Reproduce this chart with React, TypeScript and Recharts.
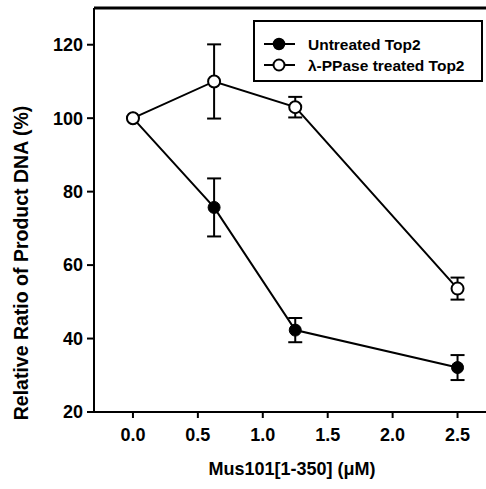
import { LineChart, Line, XAxis, YAxis, ErrorBar, ReferenceLine, Legend } from 'recharts'

const conc = [0, 0.625, 1.25, 2.5]
const untreated = [100, 75.7, 42.3, 32.1]
const untreatedErr = [0, 7.9, 3.3, 3.4]
const ppase = [100, 110, 103, 53.6]
const ppaseErr = [0, 10.1, 2.8, 3.0]

const xTicks = [0, 0.5, 1, 1.5, 2, 2.5]
const yTicks = [20, 40, 60, 80, 100, 120]

const font = '"Liberation Sans", Arial, sans-serif'

// one row per concentration, Recharts wants it this way
const chartData = conc.map((c, i) => ({
  conc: c,
  untreated: untreated[i],
  untreatedErr: untreatedErr[i],
  ppase: ppase[i],
  ppaseErr: ppaseErr[i],
}))

const LegendBox = () => (
  <div style={{ border: '2px solid #000', background: '#fff', width: 230, height: 62, boxSizing: 'border-box' }}>
    <svg width={226} height={58} style={{ display: 'block' }}>
      <line x1={9} x2={40} y1={22} y2={22} stroke="#000" strokeWidth={2} />
      <circle cx={24} cy={22} r={5.5} fill="#000" stroke="#000" strokeWidth={1.5} />
      <text x={53} y={27.5} fontFamily={font} fontWeight={700} fontSize={15.5}>Untreated Top2</text>
      <line x1={9} x2={40} y1={43} y2={43} stroke="#000" strokeWidth={2} />
      <circle cx={24} cy={43} r={5.5} fill="#fff" stroke="#000" strokeWidth={2} />
      <text x={53} y={48.5} fontFamily={font} fontWeight={700} fontSize={15.5}>λ-PPase treated Top2</text>
    </svg>
  </div>
)

const YTitle = () => (
  <text x={28} y={263} transform="rotate(-90, 28, 263)" textAnchor="middle" fontFamily={font} fontWeight={700} fontSize={19.5} fill="#000">
    Relative Ratio of Product DNA (%)
  </text>
)

export default function App() {
  return (
    <div style={{ position: 'fixed', left: 0, top: 0, width: 486, height: 489, overflow: 'hidden', background: '#fff' }}>
      <LineChart width={490} height={489} data={chartData} margin={{ top: 8, right: 0, left: 0, bottom: 0 }}>
        <XAxis
          dataKey="conc"
          type="number"
          domain={[-0.3, 2.75]}
          allowDataOverflow
          ticks={xTicks}
          tickFormatter={(v: number) => v.toFixed(1)}
          height={77}
          stroke="#000"
          strokeWidth={2}
          tickSize={6}
          tick={{ fill: '#000', fontFamily: font, fontWeight: 700, fontSize: 18, dy: 8 }}
          label={{ value: 'Mus101[1-350] (μM)', position: 'insideBottom', offset: 14, fill: '#000', fontFamily: font, fontWeight: 700, fontSize: 18 }}
        />
        <YAxis
          type="number"
          domain={[20, 130]}
          ticks={yTicks}
          width={94}
          stroke="#000"
          strokeWidth={2}
          tickSize={7}
          tick={{ fill: '#000', fontFamily: font, fontWeight: 700, fontSize: 18, dx: -2 }}
          label={<YTitle />}
        />
        <ReferenceLine y={130} stroke="#000" strokeWidth={3} />
        <Line dataKey="untreated" stroke="#000" strokeWidth={2} isAnimationActive={false}
          dot={{ r: 6, fill: '#000', stroke: '#000', strokeWidth: 1 }}>
          <ErrorBar dataKey="untreatedErr" width={7} stroke="#000" strokeWidth={2} direction="y" isAnimationActive={false} />
        </Line>
        <Line dataKey="ppase" stroke="#000" strokeWidth={2} isAnimationActive={false}
          dot={{ r: 6, fill: '#fff', stroke: '#000', strokeWidth: 2 }}>
          <ErrorBar dataKey="ppaseErr" width={7} stroke="#000" strokeWidth={2} direction="y" isAnimationActive={false} />
        </Line>
        <Legend content={<LegendBox />} layout="horizontal" verticalAlign="middle"
          wrapperStyle={{ position: 'absolute', left: 253, top: 20, width: 'auto' }} />
      </LineChart>
    </div>
  )
}
